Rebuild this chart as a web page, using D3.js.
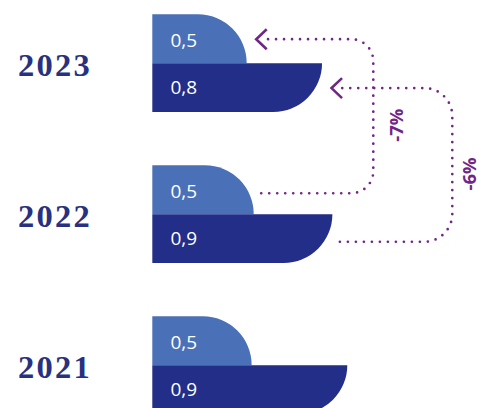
<!DOCTYPE html>
<html>
<head>
<meta charset="utf-8">
<script src="https://cdn.jsdelivr.net/npm/d3@7/dist/d3.min.js"></script>
<style>
  html, body { margin: 0; padding: 0; background: #fff; }
  svg { display: block; }
</style>
</head>
<body>
<svg id="chart" width="477" height="408"></svg>
<script>
// Years shown, top to bottom
const years = ["2023", "2022", "2021"];
// Upper (light) bar per year
const upperValues = [0.456, 0.49, 0.48];
// Lower (dark) bar per year
const lowerValues = [0.82, 0.87, 0.942];

const svg = d3.select("#chart");

const colUpper = "#4a71b7";
const colLower = "#232e88";
const colYear = "#27317f";
const colNote = "#712686";

// Horizontal value scale: bars grow from the left edge of the plot
const x = d3.scaleLinear().domain([0, 1]).range([152.3, 359.3]);

// Vertical placement of each year group
const y = d3.scaleBand()
  .domain(years)
  .range([14.3, 14.3 + 2 * 151 + 97.7])
  .paddingInner(0.353)
  .paddingOuter(0);

const half = y.bandwidth() / 2;
const fmt = v => d3.format(".1f")(v).replace(".", ",");

const rows = years.map((yr, i) => ({ year: yr, upper: upperValues[i], lower: lowerValues[i] }));

// Upper bar: rounded top-right corner (quarter circle)
function upperPath(d) {
  const x0 = x(0), x1 = x(d.upper), y0 = y(d.year), y1 = y0 + half, r = half;
  return `M${x0},${y0}H${x1 - r}A${r},${r} 0 0 1 ${x1},${y1}H${x0}Z`;
}
// Lower bar: rounded bottom-right corner
function lowerPath(d) {
  const x0 = x(0), x1 = x(d.lower), y0 = y(d.year) + half, y1 = y0 + half, r = half;
  return `M${x0},${y0}H${x1}A${r},${r} 0 0 1 ${x1 - r},${y1}H${x0}Z`;
}

const g = svg.append("g");

g.selectAll("path.upper").data(rows).join("path")
  .attr("class", "upper").attr("d", upperPath).attr("fill", colUpper);
g.selectAll("path.lower").data(rows).join("path")
  .attr("class", "lower").attr("d", lowerPath).attr("fill", colLower);

// Value labels inside bars
g.selectAll("text.vu").data(rows).join("text")
  .attr("class", "vu")
  .attr("x", x(0) + 18.2)
  .attr("y", d => y(d.year) + half / 2 + 0.9)
  .attr("dominant-baseline", "central")
  .attr("font-family", "'Open Sans', sans-serif")
  .attr("font-size", 19)
  .attr("fill", "#fff")
  .text(d => fmt(d.upper));

g.selectAll("text.vl").data(rows).join("text")
  .attr("class", "vl")
  .attr("x", x(0) + 18.2)
  .attr("y", d => y(d.year) + half * 1.5 - 1)
  .attr("dominant-baseline", "central")
  .attr("font-family", "'Open Sans', sans-serif")
  .attr("font-size", 19)
  .attr("fill", "#fff")
  .text(d => fmt(d.lower));

// Year labels
g.selectAll("text.year").data(rows).join("text")
  .attr("class", "year")
  .attr("x", 55)
  .attr("y", d => y(d.year) + half + 12.5)
  .attr("text-anchor", "middle")
  .attr("font-family", "'Liberation Serif', serif")
  .attr("font-weight", "bold")
  .attr("font-size", 32.5)
  .attr("letter-spacing", 2.2)
  .attr("fill", colYear)
  .text(d => d.year);

// Year-over-year change connectors (2022 -> 2023)
const cur = rows[0], prev = rows[1];
const changes = [
  { from: prev.upper, to: cur.upper,
    yFrom: y(prev.year) + half / 2 + 3.5, yTo: y(cur.year) + half / 2 + 0.5,
    vx: 373.3, r: 22, labelX: 395 },
  { from: prev.lower, to: cur.lower,
    yFrom: y(prev.year) + half * 1.5 + 3.2, yTo: y(cur.year) + half * 1.5 + 0.5,
    vx: 452.3, r: 28, labelX: 468 }
];

changes.forEach(c => {
  const xs = x(c.from) + 7.5;
  const xt = x(c.to) + 9.5;
  const p = d3.path();
  p.moveTo(xs, c.yFrom);
  p.lineTo(c.vx - c.r, c.yFrom);
  p.arcTo(c.vx, c.yFrom, c.vx, c.yFrom - c.r, c.r);
  p.lineTo(c.vx, c.yTo + c.r);
  p.arcTo(c.vx, c.yTo, c.vx - c.r, c.yTo, c.r);
  p.lineTo(xt + 7, c.yTo);
  g.append("path")
    .attr("d", p.toString())
    .attr("fill", "none")
    .attr("stroke", colNote)
    .attr("stroke-width", 2.7)
    .attr("stroke-linecap", "round")
    .attr("stroke-dasharray", "0 8");

  g.append("path")
    .attr("d", `M${xt + 10.5},${c.yTo - 10}L${xt},${c.yTo}L${xt + 10.5},${c.yTo + 10}`)
    .attr("fill", "none")
    .attr("stroke", colNote)
    .attr("stroke-width", 2.6);

  const pct = Math.round((c.to / c.from - 1) * 100);
  const ly = (c.yFrom + c.yTo) / 2 + 9;
  g.append("text")
    .attr("transform", `translate(${c.labelX},${ly}) rotate(-90)`)
    .attr("text-anchor", "middle")
    .attr("dominant-baseline", "central")
    .attr("font-family", "'Open Sans', sans-serif")
    .attr("font-weight", "bold")
    .attr("font-size", 18.5)
    .attr("fill", colNote)
    .text(`${pct}%`);
});
</script>
</body>
</html>
